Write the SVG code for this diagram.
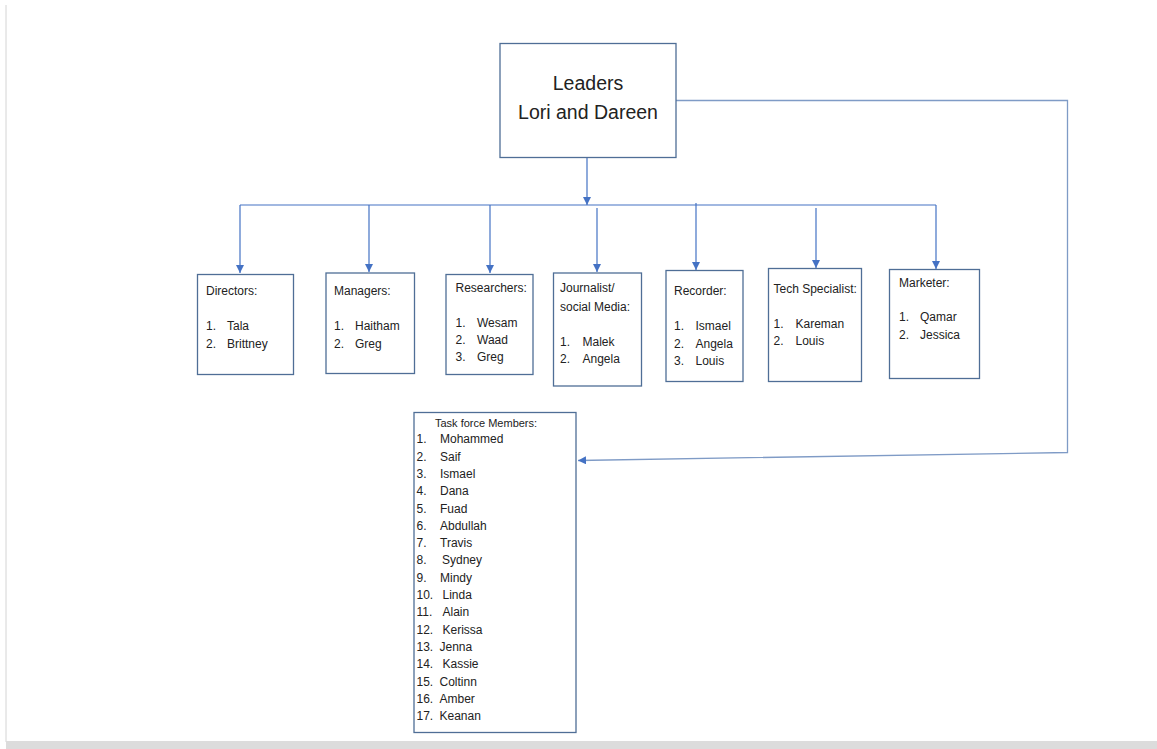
<svg xmlns="http://www.w3.org/2000/svg" width="1157" height="749" viewBox="0 0 1157 749">
<defs>
<marker id="ah" markerUnits="userSpaceOnUse" markerWidth="10" markerHeight="10" refX="8" refY="4" orient="auto">
<path d="M0,0 L8,4 L0,8 Z" fill="#4472c4"/>
</marker>
<style>
.box{fill:#fff;stroke:#4f6e96;stroke-width:1.3}
.t{font-family:"Liberation Sans",Arial,sans-serif;font-size:12px;fill:#222}
.tf{font-family:"Liberation Sans",Arial,sans-serif;font-size:12px;fill:#222}
.tt{font-family:"Liberation Sans",Arial,sans-serif;font-size:11px;fill:#222}
.big{font-family:"Liberation Sans",Arial,sans-serif;font-size:19.5px;fill:#222;text-anchor:middle}
.c{fill:none;stroke:#4472c4;stroke-width:1.2}
.c2{fill:none;stroke:#7f9bc6;stroke-width:1.3}
</style>
</defs>
<rect x="0" y="0" width="1157" height="749" fill="#fff"/>
<line x1="6" y1="5" x2="6" y2="742" stroke="#d4d4d4" stroke-width="1"/>
<rect x="6" y="741" width="1151" height="8" fill="#dcdcdc"/>

<g id="connectors">
<line class="c" x1="587" y1="158" x2="587" y2="205" marker-end="url(#ah)"/>
<line class="c" x1="240" y1="205" x2="936" y2="205"/>
<line class="c" x1="240" y1="205" x2="240" y2="273" marker-end="url(#ah)"/>
<line class="c" x1="369" y1="205" x2="369" y2="272" marker-end="url(#ah)"/>
<line class="c" x1="490" y1="205" x2="490" y2="273" marker-end="url(#ah)"/>
<line class="c" x1="597" y1="208" x2="597" y2="272" marker-end="url(#ah)"/>
<line class="c" x1="696" y1="203" x2="696" y2="270" marker-end="url(#ah)"/>
<line class="c" x1="816" y1="208" x2="816" y2="268" marker-end="url(#ah)"/>
<line class="c" x1="936" y1="205" x2="936" y2="269" marker-end="url(#ah)"/>
<polyline class="c2" points="676,100.5 1067.5,100.5 1067.5,452.5 578,460.5" marker-end="url(#ah)"/>
</g>

<g id="leaders">
<rect class="box" x="500" y="43.5" width="176" height="114"/>
<text class="big" x="588" y="90">Leaders</text>
<text class="big" x="588" y="119">Lori and Dareen</text>
</g>

<g id="directors">
<rect class="box" x="197.5" y="274.5" width="96" height="100"/>
<text class="t" x="206" y="295">Directors:</text>
<text class="t" x="206" y="330">1.</text><text class="t" x="227" y="330">Tala</text>
<text class="t" x="206" y="347.5">2.</text><text class="t" x="227" y="347.5">Brittney</text>
</g>

<g id="managers">
<rect class="box" x="326" y="273" width="88.5" height="100.5"/>
<text class="t" x="334" y="295">Managers:</text>
<text class="t" x="334" y="330">1.</text><text class="t" x="355" y="330">Haitham</text>
<text class="t" x="334" y="347.5">2.</text><text class="t" x="355" y="347.5">Greg</text>
</g>

<g id="researchers">
<rect class="box" x="446" y="274.5" width="87" height="100"/>
<text class="t" x="455.5" y="291.5">Researchers:</text>
<text class="t" x="455.5" y="326.5">1.</text><text class="t" x="477" y="326.5">Wesam</text>
<text class="t" x="455.5" y="343.5">2.</text><text class="t" x="477" y="343.5">Waad</text>
<text class="t" x="455.5" y="360.5">3.</text><text class="t" x="477" y="360.5">Greg</text>
</g>

<g id="journalist">
<rect class="box" x="553.5" y="273" width="88" height="113"/>
<text class="t" x="560" y="292">Journalist/</text>
<text class="t" x="560" y="310.5">social Media:</text>
<text class="t" x="560" y="345.5">1.</text><text class="t" x="582.5" y="345.5">Malek</text>
<text class="t" x="560" y="362.5">2.</text><text class="t" x="582.5" y="362.5">Angela</text>
</g>

<g id="recorder">
<rect class="box" x="666" y="270.5" width="77" height="111"/>
<text class="t" x="674" y="295">Recorder:</text>
<text class="t" x="674" y="330">1.</text><text class="t" x="695.5" y="330">Ismael</text>
<text class="t" x="674" y="347.5">2.</text><text class="t" x="695.5" y="347.5">Angela</text>
<text class="t" x="674" y="364.5">3.</text><text class="t" x="695.5" y="364.5">Louis</text>
</g>

<g id="tech">
<rect class="box" x="768.5" y="268.5" width="93" height="113"/>
<text class="t" x="773.5" y="293">Tech Specialist:</text>
<text class="t" x="773.5" y="327.5">1.</text><text class="t" x="795.5" y="327.5">Kareman</text>
<text class="t" x="773.5" y="345">2.</text><text class="t" x="795.5" y="345">Louis</text>
</g>

<g id="marketer">
<rect class="box" x="889.5" y="269.5" width="90" height="109"/>
<text class="t" x="899" y="286.5">Marketer:</text>
<text class="t" x="899" y="321">1.</text><text class="t" x="920" y="321">Qamar</text>
<text class="t" x="899" y="338.5">2.</text><text class="t" x="920" y="338.5">Jessica</text>
</g>

<g id="taskforce">
<rect class="box" x="414" y="412.5" width="162" height="320"/>
<text class="tt" x="435" y="426.5">Task force Members:</text>
<text class="tf" x="416.5" y="443.3">1.</text><text class="tf" x="440" y="443.3">Mohammed</text>
<text class="tf" x="416.5" y="460.6">2.</text><text class="tf" x="440" y="460.6">Saif</text>
<text class="tf" x="416.5" y="477.9">3.</text><text class="tf" x="440" y="477.9">Ismael</text>
<text class="tf" x="416.5" y="495.2">4.</text><text class="tf" x="440" y="495.2">Dana</text>
<text class="tf" x="416.5" y="512.5">5.</text><text class="tf" x="440" y="512.5">Fuad</text>
<text class="tf" x="416.5" y="529.8">6.</text><text class="tf" x="440" y="529.8">Abdullah</text>
<text class="tf" x="416.5" y="547.1">7.</text><text class="tf" x="440" y="547.1">Travis</text>
<text class="tf" x="416.5" y="564.4">8.</text><text class="tf" x="442" y="564.4">Sydney</text>
<text class="tf" x="416.5" y="581.7">9.</text><text class="tf" x="440" y="581.7">Mindy</text>
<text class="tf" x="416.5" y="599">10.</text><text class="tf" x="442.5" y="599">Linda</text>
<text class="tf" x="416.5" y="616.3">11.</text><text class="tf" x="442.5" y="616.3">Alain</text>
<text class="tf" x="416.5" y="633.6">12.</text><text class="tf" x="442.5" y="633.6">Kerissa</text>
<text class="tf" x="416.5" y="650.9">13.</text><text class="tf" x="439.5" y="650.9">Jenna</text>
<text class="tf" x="416.5" y="668.2">14.</text><text class="tf" x="442.5" y="668.2">Kassie</text>
<text class="tf" x="416.5" y="685.5">15.</text><text class="tf" x="439.5" y="685.5">Coltinn</text>
<text class="tf" x="416.5" y="702.8">16.</text><text class="tf" x="439.5" y="702.8">Amber</text>
<text class="tf" x="416.5" y="720.1">17.</text><text class="tf" x="439.5" y="720.1">Keanan</text>
</g>
</svg>
